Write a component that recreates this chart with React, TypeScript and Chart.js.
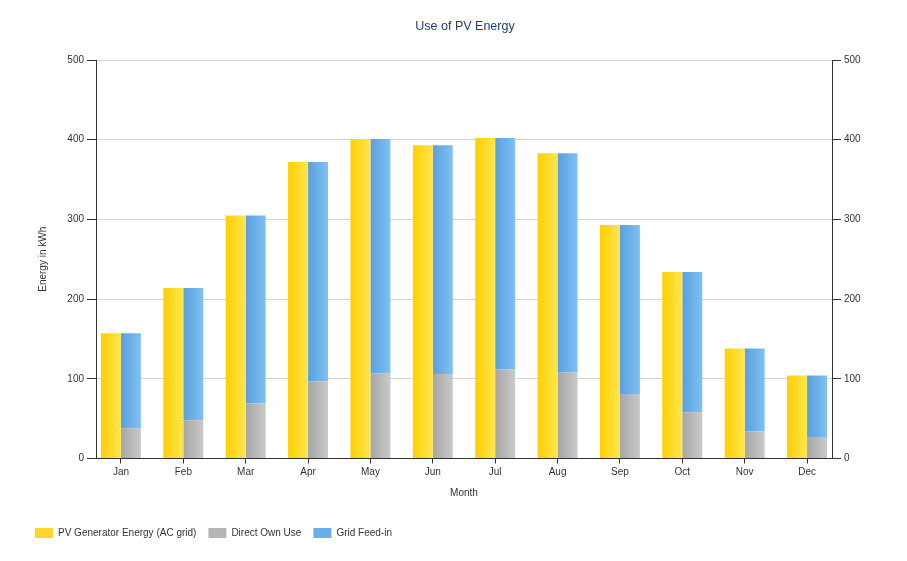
import React, { useEffect, useRef } from "react";
import { Chart, registerables } from "chart.js";

Chart.register(...registerables);

const months = ["Jan", "Feb", "Mar", "Apr", "May", "Jun", "Jul", "Aug", "Sep", "Oct", "Nov", "Dec"];
const pvEnergy = [157, 214, 305, 372, 401, 393, 402, 383, 293, 234, 138, 104];
const ownUse = [38, 48, 69, 97, 107, 106, 112, 108, 80, 58, 34, 26];
const gridFeedIn = [119, 166, 236, 275, 294, 287, 290, 275, 213, 176, 104, 78];
const yTicks = [0, 100, 200, 300, 400, 500];

const FONT = "'Liberation Sans', Arial, sans-serif";
const TEXT = "#333333";
const FS = 10;

const gradients: Record<string, [string, string]> = {
  pv: ["#FFCF00", "#FFE650"],
  own: ["#A6A6A6", "#C9C9C9"],
  feed: ["#5A9FDD", "#80C1F3"],
};

const gradientPlugin = {
  id: "barGradient",
  beforeDatasetsDraw(chart: any) {
    const ctx = chart.ctx;
    chart.data.datasets.forEach((ds: any, di: number) => {
      const meta = chart.getDatasetMeta(di);
      const cols = gradients[ds.key];
      if (!cols) return;
      meta.data.forEach((el: any) => {
        const x0 = el.x - el.width / 2;
        const x1 = el.x + el.width / 2;
        const g = ctx.createLinearGradient(x0, 0, x1, 0);
        g.addColorStop(0, cols[0]);
        g.addColorStop(1, cols[1]);
        el.options = Object.assign({}, el.options, { backgroundColor: g });
      });
    });
  },
};

export default function App() {
  const ref = useRef<HTMLCanvasElement | null>(null);
  useEffect(() => {
    if (!ref.current) return;
    const toPts = (arr: number[]) => arr.map((v, i) => ({ x: i, y: v }));
    const chart = new Chart(ref.current, {
      type: "bar",
      data: {
        datasets: [
          {
            key: "pv",
            label: "PV Generator Energy (AC grid)",
            data: toPts(pvEnergy),
            backgroundColor: "#FFD92A",
            stack: "a",
          } as any,
          {
            key: "own",
            label: "Direct Own Use",
            data: toPts(ownUse),
            backgroundColor: "#B5B5B5",
            stack: "b",
          } as any,
          {
            key: "feed",
            label: "Grid Feed-in",
            data: toPts(gridFeedIn),
            backgroundColor: "#6AAEE8",
            stack: "b",
          } as any,
        ],
      },
      options: {
        animation: false,
        responsive: false,
        maintainAspectRatio: false,
        layout: { padding: { left: 23, right: 0, top: 0, bottom: 13 } },
        datasets: {
          bar: { categoryPercentage: 0.64, barPercentage: 1.0, borderWidth: 0 },
        },
        plugins: {
          title: {
            display: true,
            text: "Use of PV Energy",
            color: "#1F3F76",
            font: { family: FONT, size: 12.5, weight: "normal" },
            padding: { top: 19.5, bottom: 25.5 },
          },
          legend: {
            position: "bottom",
            align: "start",
            labels: {
              boxWidth: 18,
              boxHeight: 10,
              padding: 12,
              color: TEXT,
              font: { family: FONT, size: FS },
            },
          },
          tooltip: { enabled: false },
        },
        scales: {
          x: {
            type: "linear",
            min: -0.4,
            max: 11.4,
            offset: false,
            grid: { display: true, offset: false, drawOnChartArea: false, tickLength: 5, tickColor: TEXT },
            border: { display: true, color: TEXT, width: 1 },
            ticks: {
              stepSize: 1,
              includeBounds: false,
              autoSkip: false,
              maxRotation: 0,
              padding: 3,
              color: TEXT,
              font: { family: FONT, size: FS },
              callback: (v: any) => (Number.isInteger(v) && months[v] !== undefined ? months[v] : ""),
            },
            title: {
              display: true,
              text: "Month",
              color: TEXT,
              font: { family: FONT, size: FS },
              padding: { top: 0, bottom: 17 },
            },
            afterFit: (s: any) => {
              s.height = 57.5;
            },
          },
          y: {
            type: "linear",
            position: "left",
            stacked: true,
            min: 0,
            max: 500,
            afterBuildTicks: (s: any) => {
              s.ticks = yTicks.map((v) => ({ value: v }));
            },
            grid: { color: "#D3D3D3", tickColor: TEXT, tickLength: 9 },
            border: { display: true, color: TEXT, width: 1 },
            ticks: { padding: 3, color: TEXT, font: { family: FONT, size: FS } },
            title: {
              display: true,
              text: "Energy in kWh",
              color: TEXT,
              font: { family: FONT, size: FS },
              padding: { top: 14, bottom: 0 },
            },
            afterFit: (s: any) => {
              s.width = 73;
            },
          },
          y1: {
            type: "linear",
            position: "right",
            min: 0,
            max: 500,
            afterBuildTicks: (s: any) => {
              s.ticks = yTicks.map((v) => ({ value: v }));
            },
            grid: { drawOnChartArea: false, tickColor: TEXT, tickLength: 9 },
            border: { display: true, color: TEXT, width: 1 },
            ticks: { padding: 3, color: TEXT, font: { family: FONT, size: FS } },
            afterFit: (s: any) => {
              s.width = 75;
            },
          },
        },
      } as any,
      plugins: [gradientPlugin],
    });
    return () => chart.destroy();
  }, []);

  return (
    <div style={{ position: "absolute", left: 0, top: 0, width: 907, height: 561, background: "#fff" }}>
      <canvas ref={ref} width={907} height={561} style={{ width: 907, height: 561, display: "block" }} />
    </div>
  );
}
